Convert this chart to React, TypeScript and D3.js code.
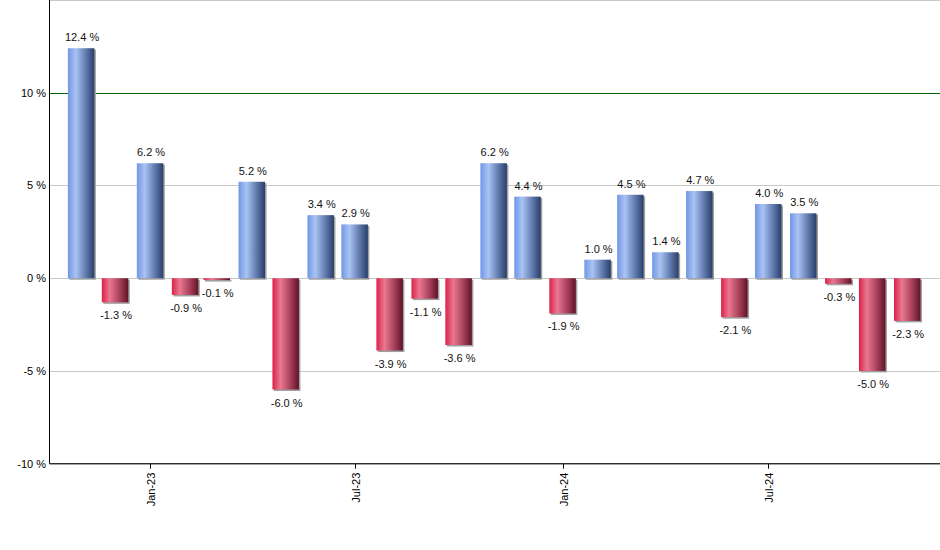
import React from "react";
import * as d3 from "d3";

const months = [
  "2022-11", "2022-12", "2023-01", "2023-02", "2023-03", "2023-04", "2023-05", "2023-06",
  "2023-07", "2023-08", "2023-09", "2023-10", "2023-11", "2023-12", "2024-01", "2024-02",
  "2024-03", "2024-04", "2024-05", "2024-06", "2024-07", "2024-08", "2024-09", "2024-10", "2024-11",
];
const values = [
  12.4, -1.3, 6.2, -0.9, -0.1, 5.2, -6.0, 3.4, 2.9, -3.9, -1.1, -3.6, 6.2, 4.4, -1.9, 1.0,
  4.5, 1.4, 4.7, -2.1, 4.0, 3.5, -0.3, -5.0, -2.3,
];
const yTicks = [-10, -5, 0, 5, 10, 15];
const xTickLabels = ["Jan-23", "Jul-23", "Jan-24", "Jul-24"];
const xTickDates = ["2023-01", "2023-07", "2024-01", "2024-07"];

const W = 940;
const H = 550;
const left = 49.5;
const right = 940;
const top = 0;
const bottom = 463.7;

const parse = (s: string) => {
  const [y, m] = s.split("-").map(Number);
  return new Date(y, m - 1, 1);
};

export default function App() {
  const x = d3
    .scaleTime()
    .domain([new Date(2022, 9, 4), new Date(2024, 10, 30)])
    .range([left, right]);
  const y = d3.scaleLinear().domain([-10, 15]).range([bottom, top]);
  const bw = 26.5;
  const font = "'Liberation Sans', Arial, sans-serif";

  return (
    <svg width={W} height={H} style={{ position: "absolute", left: 0, top: 0, background: "#fff" }}>
      <defs>
        <linearGradient id="gBlue" x1="0" x2="1" y1="0" y2="0">
          <stop offset="0" stopColor="#7196e6" />
          <stop offset="0.3" stopColor="#a9c3f3" />
          <stop offset="0.65" stopColor="#6680b4" />
          <stop offset="1" stopColor="#293f69" />
        </linearGradient>
        <linearGradient id="gRed" x1="0" x2="1" y1="0" y2="0">
          <stop offset="0" stopColor="#dc2148" />
          <stop offset="0.3" stopColor="#e97890" />
          <stop offset="0.65" stopColor="#ad4460" />
          <stop offset="1" stopColor="#611226" />
        </linearGradient>
      </defs>
      {yTicks.map((t) => (
        <g key={t}>
          <line
            x1={left}
            x2={right}
            y1={Math.round(y(t)) + 0.5}
            y2={Math.round(y(t)) + 0.5}
            stroke={t === 10 ? "#006400" : "#c8c8c8"}
            strokeWidth={1}
          />
          {t !== 15 && (
            <text
              x={46}
              y={y(t)}
              dy="0.35em"
              textAnchor="end"
              fontSize={11}
              fontFamily={font}
              fill="#000"
            >
              {t} %
            </text>
          )}
        </g>
      ))}
      {months.map((m, i) => {
        const v = values[i];
        const cx = x(parse(m));
        const y0 = y(0);
        const y1 = y(v);
        const yTop = Math.min(y0, y1);
        const h = Math.abs(y1 - y0);
        const pos = v >= 0;
        return (
          <g key={m}>
            <rect x={cx - bw / 2 + 1.5} y={yTop + 1.5} width={bw} height={h} fill="#a0a0a0" />
            <rect x={cx - bw / 2} y={yTop} width={bw} height={h} fill={pos ? "url(#gBlue)" : "url(#gRed)"} />
            <text
              x={cx + 1}
              y={pos ? y1 - 7 : y1 + 17}
              textAnchor="middle"
              fontSize={11}
              fontFamily={font}
              fill="#111"
            >
              {v.toFixed(1)} %
            </text>
          </g>
        );
      })}
      <line x1={left} x2={left} y1={0} y2={bottom} stroke="#000" strokeWidth={1} />
      <line x1={left} x2={right} y1={bottom} y2={bottom} stroke="#000" strokeWidth={1} />
      {xTickDates.map((d, i) => {
        const tx = Math.round(x(parse(d))) + 0.5;
        return (
          <g key={d}>
            <line x1={tx} x2={tx} y1={bottom} y2={bottom + 5} stroke="#000" />
            <text
              transform={`translate(${tx + 4},${bottom + 9}) rotate(-90)`}
              textAnchor="end"
              fontSize={11}
              fontFamily={font}
              fill="#000"
            >
              {xTickLabels[i]}
            </text>
          </g>
        );
      })}
    </svg>
  );
}
